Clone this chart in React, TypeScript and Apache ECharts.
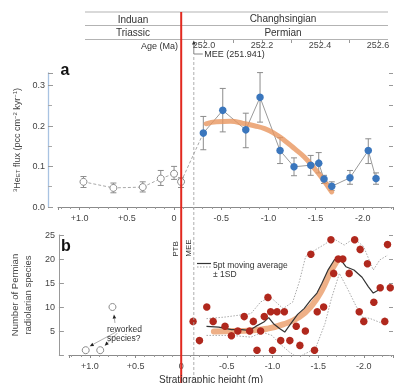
import React, { useEffect, useRef } from 'react';
import * as echarts from 'echarts';

const FONT = '"Liberation Sans", Arial, Helvetica, sans-serif';

// ---------- Panel a: 3He flux ----------
const openX = [0.96, 0.643, 0.332, 0.141, 0.0, -0.074];
const openY = [0.062, 0.047, 0.049, 0.070, 0.082, 0.062];
const openLow = [0.048, 0.035, 0.037, 0.053, 0.068, 0.048];
const openHigh = [0.075, 0.059, 0.062, 0.090, 0.100, 0.072];

const blueX = [-0.31, -0.516, -0.76, -0.911, -1.123, -1.271, -1.448, -1.533, -1.589, -1.671, -1.864, -2.058, -2.14];
const blueY = [0.182, 0.238, 0.19, 0.27, 0.139, 0.099, 0.103, 0.108, 0.069, 0.051, 0.072, 0.139, 0.07];
const blueLow = [0.141, 0.185, 0.146, 0.209, 0.107, 0.077, 0.078, 0.084, 0.058, 0.041, 0.056, 0.107, 0.056];
const blueHigh = [0.223, 0.292, 0.231, 0.331, 0.171, 0.121, 0.127, 0.134, 0.078, 0.062, 0.09, 0.168, 0.084];

const trendAX = [-0.34, -0.45, -0.6, -0.73, -0.85, -0.96, -1.07, -1.17, -1.28, -1.38, -1.48, -1.56, -1.67];
const trendAY = [0.205, 0.21, 0.211, 0.206, 0.2, 0.193, 0.18, 0.164, 0.143, 0.123, 0.097, 0.074, 0.037];

// ---------- Panel b: radiolarian species ----------
const radX = [-0.13, -0.2, -0.28, -0.35, -0.48, -0.55, -0.62, -0.69, -0.75, -0.79, -0.83, -0.87, -0.91, -0.95, -0.98, -1.0, -1.05, -1.09, -1.13, -1.19, -1.26, -1.3, -1.36, -1.42, -1.46, -1.49, -1.56, -1.64, -1.67, -1.72, -1.77, -1.84, -1.9, -1.95, -1.96, -2.0, -2.04, -2.11, -2.18, -2.23, -2.26, -2.29];
const radY = [7, 3, 10, 7, 6, 4, 5, 8, 5, 7, 1, 5, 8, 12, 9, 1, 9, 3, 9, 3, 6, 2, 5, 21, 1, 9, 10, 24, 17, 20, 20, 17, 24, 9, 22, 7, 19, 11, 14, 7, 23, 14];

const reworkedX = [1.046, 0.887, 0.753];
const reworkedY = [1, 1, 10];

const maX = [-0.277, -0.411, -0.552, -0.661, -0.746, -0.817, -0.905, -0.958, -1.011, -1.081, -1.134, -1.187, -1.275, -1.346, -1.416, -1.487, -1.54, -1.611, -1.68, -1.744, -1.804, -1.892, -1.981, -2.051, -2.104, -2.167, -2.196];
const maY = [5.96, 5.82, 5.27, 5.27, 5.13, 5.96, 6.86, 7.78, 6.53, 5.48, 4.77, 6.17, 8.47, 9.67, 11.4, 12.9, 14.9, 17.8, 19.9, 19.9, 18.4, 17.7, 16.2, 14.2, 12.9, 13.6, 14.0];

const sdUpX = [-0.277, -0.481, -0.764, -0.87, -0.976, -1.116, -1.222, -1.293, -1.363, -1.469, -1.575, -1.663, -1.786, -1.892, -1.998, -2.104, -2.175, -2.262];
const sdUpY = [7.57, 7.91, 8.62, 11.05, 12.1, 9.67, 11.05, 15.2, 20.5, 21.9, 23.1, 24.3, 22.9, 24.3, 22.6, 17.7, 19.8, 20.8];

const sdLoX = [-0.277, -0.552, -0.764, -0.887, -0.993, -1.081, -1.187, -1.275, -1.469, -1.575, -1.646, -1.733, -1.822, -1.91, -1.981, -2.069, -2.175, -2.26];
const sdLoY = [4.08, 4.08, 3.72, 4.77, 4.08, 2.34, 0.59, -0.5, 1.3, 6.53, 11.8, 17.0, 13.8, 10.4, 7.9, 7.6, 6.8, 7.0];

const trendBX = [-0.358, -0.587, -0.764, -0.94, -1.116, -1.293, -1.434, -1.54, -1.628, -1.716];
const trendBY = [4.92, 4.98, 5.13, 5.48, 6.38, 7.9, 10.4, 13.5, 17.0, 19.9];

// ---------- Header ----------
const stageNames = ['Induan', 'Changhsingian'];
const systemNames = ['Triassic', 'Permian'];
const ageMin = 252.0;
const ageMax = 252.6;
const meeAge = '251.941';
const meeHeight = -0.138;
const ptbHeight = 0;

const zip = (xs: number[], ys: number[]) => xs.map((x, i) => [x, ys[i]]);
const zip3 = (xs: number[], lo: number[], hi: number[]) => xs.map((x, i) => [x, lo[i], hi[i]]);

const hFmt = (v: number) => {
  if (Math.abs(v) < 1e-9) return '0';
  const r = Math.round(v * 10) / 10;
  if (Math.abs(r * 2 - Math.round(r * 2)) > 1e-6) return '';
  return (r > 0 ? '+' : '') + r.toFixed(1);
};

const errRender = (params: any, api: any) => {
  const x = api.value(0);
  const p1 = api.coord([x, api.value(1)]);
  const p2 = api.coord([x, api.value(2)]);
  const w = 3;
  const style = { stroke: '#8c8c8c', lineWidth: 1 };
  return {
    type: 'group',
    children: [
      { type: 'line', shape: { x1: p1[0], y1: p1[1], x2: p2[0], y2: p2[1] }, style },
      { type: 'line', shape: { x1: p1[0] - w, y1: p1[1], x2: p1[0] + w, y2: p1[1] }, style },
      { type: 'line', shape: { x1: p2[0] - w, y1: p2[1], x2: p2[0] + w, y2: p2[1] }, style },
    ],
  };
};

const tickLabel = { fontSize: 9, color: '#444', fontFamily: FONT };

export default function App() {
  const ref = useRef<HTMLDivElement>(null);
  useEffect(() => {
    if (!ref.current) return;
    const chart = echarts.init(ref.current, null, { renderer: 'svg' });
    const xAxisCommon = (gridIndex: number, extra: any = {}) => ({
      type: 'value', gridIndex, min: -2.32, max: 1.23, inverse: true, splitNumber: 8,
      splitLine: { show: false },
      axisLine: { onZero: false, lineStyle: { color: '#8a8a8a', width: 1 } },
      axisTick: { show: true, length: 3, lineStyle: { color: '#8a8a8a' } },
      minorTick: { show: true, splitNumber: 5, length: 2, lineStyle: { color: '#9a9a9a' } },
      axisLabel: { ...tickLabel, margin: 6, formatter: hFmt, showMinLabel: false, showMaxLabel: false },
      ...extra,
    });
    const option: any = {
      animation: false,
      textStyle: { fontFamily: FONT },
      grid: [
        { left: 58, top: 73, width: 335, height: 134 },
        { left: 58, top: 235, width: 335, height: 120 },
        { left: 204, top: 20, width: 174, height: 19 },
      ],
      xAxis: [
        xAxisCommon(0),
        xAxisCommon(1),
        {
          type: 'value', gridIndex: 2, min: ageMin, max: ageMax, interval: 0.1,
          splitLine: { show: false }, axisLine: { show: false, onZero: false },
          axisTick: { show: true, length: 4, lineStyle: { color: '#999' } },
          axisLabel: {
            ...tickLabel, margin: 1,
            formatter: (v: number) => (Math.round(v * 10) % 2 === 0 ? v.toFixed(1) : ''),
          },
        },
      ],
      yAxis: [
        {
          type: 'value', gridIndex: 0, min: 0, max: 0.33, interval: 0.1, offset: 10,
          splitLine: { show: false },
          axisLine: { show: true, onZero: false, lineStyle: { color: '#a9c3e2', width: 1.3 } },
          axisTick: { show: true, inside: true, length: 5, lineStyle: { color: '#999' } },
          minorTick: { show: true, splitNumber: 2, length: 4, lineStyle: { color: '#aaa' } },
          axisLabel: { ...tickLabel, margin: 3, formatter: (v: number) => v.toFixed(1), showMaxLabel: false },
          name: '{sup|3}He{sub|ET} flux (pcc cm{sup|−2} kyr{sup|−1})',
          nameLocation: 'middle', nameGap: 27, nameRotate: 90,
          nameTextStyle: {
            fontSize: 9, color: '#444', fontFamily: FONT,
            rich: {
              sup: { fontSize: 6, color: '#444', fontFamily: FONT, verticalAlign: 'top', lineHeight: 7 },
              sub: { fontSize: 6, color: '#444', fontFamily: FONT, verticalAlign: 'bottom', lineHeight: 7 },
            },
          },
        },
        {
          type: 'value', gridIndex: 0, position: 'right', min: 0, max: 0.33, interval: 0.05,
          splitLine: { show: false }, axisLine: { show: false, onZero: false },
          axisTick: { show: true, inside: true, length: 4, lineStyle: { color: '#999' } },
          axisLabel: { show: false },
        },
        {
          type: 'value', gridIndex: 1, min: 0, max: 25, interval: 5, offset: 10,
          splitLine: { show: false },
          axisLine: { show: true, onZero: false, lineStyle: { color: '#999', width: 1 } },
          axisTick: { show: true, inside: true, length: 5, lineStyle: { color: '#999' } },
          axisLabel: { ...tickLabel, margin: 4, formatter: (v: number) => (v === 0 ? '' : String(v)) },
          name: 'Number of Permian\nradiolarian species',
          nameLocation: 'middle', nameGap: 20, nameRotate: 90,
          nameTextStyle: { fontSize: 9.5, color: '#444', fontFamily: FONT, lineHeight: 13 },
        },
        {
          type: 'value', gridIndex: 1, position: 'right', min: 0, max: 25, interval: 5,
          splitLine: { show: false }, axisLine: { show: false, onZero: false },
          axisTick: { show: true, inside: true, length: 4, lineStyle: { color: '#999' } },
          axisLabel: { show: false },
        },
        { type: 'value', gridIndex: 2, show: false, min: 0, max: 1 },
      ],
      series: [
        {
          type: 'custom', xAxisIndex: 0, yAxisIndex: 0, z: 1, renderItem: errRender,
          encode: { x: 0, y: [1, 2] }, data: zip3(openX, openLow, openHigh),
        },
        {
          type: 'custom', xAxisIndex: 0, yAxisIndex: 0, z: 1, renderItem: errRender,
          encode: { x: 0, y: [1, 2] }, data: zip3(blueX, blueLow, blueHigh),
        },
        {
          type: 'line', xAxisIndex: 0, yAxisIndex: 0, z: 2, showSymbol: false,
          lineStyle: { color: '#a8a8a8', width: 1, type: [3, 2] },
          data: [...zip(openX, openY), [blueX[0], blueY[0]]],
        },
        {
          type: 'line', xAxisIndex: 0, yAxisIndex: 0, z: 2, showSymbol: false,
          lineStyle: { color: '#9a9a9a', width: 1 },
          data: zip(blueX, blueY),
        },
        {
          type: 'line', xAxisIndex: 0, yAxisIndex: 0, z: 3, showSymbol: false, smooth: true,
          lineStyle: { color: 'rgba(232,150,95,0.8)', width: 5, cap: 'round' },
          data: zip(trendAX, trendAY),
        },
        {
          type: 'scatter', xAxisIndex: 0, yAxisIndex: 0, z: 4, symbol: 'circle', symbolSize: 7,
          itemStyle: { color: '#fff', borderColor: '#8a8a8a', borderWidth: 1, opacity: 1 },
          data: zip(openX, openY),
        },
        {
          type: 'scatter', xAxisIndex: 0, yAxisIndex: 0, z: 4, symbol: 'circle', symbolSize: 7.5,
          itemStyle: { color: '#3a76bd', opacity: 1 },
          data: zip(blueX, blueY),
        },
        {
          type: 'line', xAxisIndex: 1, yAxisIndex: 2, z: 2, showSymbol: false,
          lineStyle: { color: '#a0a0a0', width: 0.9, type: [1.5, 1.5] },
          data: zip(sdUpX, sdUpY),
        },
        {
          type: 'line', xAxisIndex: 1, yAxisIndex: 2, z: 2, showSymbol: false,
          lineStyle: { color: '#a0a0a0', width: 0.9, type: [1.5, 1.5] },
          data: zip(sdLoX, sdLoY),
        },
        {
          type: 'line', xAxisIndex: 1, yAxisIndex: 2, z: 3, showSymbol: false, smooth: true,
          lineStyle: { color: 'rgba(232,150,95,0.75)', width: 6, cap: 'round' },
          data: zip(trendBX, trendBY),
        },
        {
          type: 'line', xAxisIndex: 1, yAxisIndex: 2, z: 4, showSymbol: false,
          lineStyle: { color: '#333', width: 1.2 },
          data: zip(maX, maY),
        },
        {
          type: 'scatter', xAxisIndex: 1, yAxisIndex: 2, z: 5, symbol: 'circle', symbolSize: 7.5,
          itemStyle: { color: '#b0281d', opacity: 1 },
          data: zip(radX, radY),
        },
        {
          type: 'scatter', xAxisIndex: 1, yAxisIndex: 2, z: 5, symbol: 'circle', symbolSize: 7,
          itemStyle: { color: '#fff', borderColor: '#8a8a8a', borderWidth: 1, opacity: 1 },
          data: zip(reworkedX, reworkedY),
        },
      ],
    };
    chart.setOption(option);

    const xPTB = chart.convertToPixel({ xAxisIndex: 1 }, ptbHeight) as number;
    const xMEE = chart.convertToPixel({ xAxisIndex: 1 }, meeHeight) as number;
    const rw = reworkedX.map((x, i) => chart.convertToPixel({ xAxisIndex: 1, yAxisIndex: 2 }, [x, reworkedY[i]]) as number[]);

    const txt = (x: number, y: number, text: string, o: any = {}) => ({
      type: 'text', x, y, z: 20,
      style: { text, fontSize: 10, fill: '#333', fontFamily: FONT, align: 'center', verticalAlign: 'middle', ...o },
    });
    const ln = (x1: number, y1: number, x2: number, y2: number, style: any) => ({
      type: 'line', z: 15, shape: { x1, y1, x2, y2 }, style: { lineWidth: 1, ...style },
    });
    const arrow = (x1: number, y1: number, x2: number, y2: number) => {
      const a = Math.atan2(y2 - y1, x2 - x1);
      const L = 4, W = 1.8;
      const bx = x2 - L * Math.cos(a), by = y2 - L * Math.sin(a);
      return [
        ln(x1, y1, bx, by, { stroke: '#999', lineWidth: 0.8 }),
        {
          type: 'polygon', z: 16,
          shape: { points: [[x2, y2], [bx - W * Math.sin(a), by + W * Math.cos(a)], [bx + W * Math.sin(a), by - W * Math.cos(a)]] },
          style: { fill: '#222' },
        },
      ];
    };

    const hdrL = 85, hdrR = 388;
    const graphic: any[] = [
      ln(hdrL, 12, hdrR, 12, { stroke: '#b3b3b3' }),
      ln(hdrL, 25.5, hdrR, 25.5, { stroke: '#b3b3b3' }),
      ln(hdrL, 39.5, hdrR, 39.5, { stroke: '#b3b3b3' }),
      txt(133, 19, stageNames[0]),
      txt(283, 18.5, stageNames[1]),
      txt(133, 32.5, systemNames[0]),
      txt(283, 32.5, systemNames[1]),
      txt(178, 45.5, 'Age (Ma)', { align: 'right', fontSize: 9 }),
      {
        type: 'polygon', z: 16,
        shape: { points: [[xMEE - 1.8, 44.5], [xMEE + 1.8, 44.5], [xMEE, 40.5]] },
        style: { fill: '#333' },
      },
      {
        type: 'polyline', z: 15,
        shape: { points: [[xMEE, 44], [xMEE, 54], [xMEE + 9, 54]] },
        style: { stroke: '#666', lineWidth: 0.8, fill: null },
      },
      txt(xMEE + 10.5, 54, `MEE (${meeAge})`, { align: 'left', fontSize: 9 }),
      ln(xMEE, 57, xMEE, 383, { stroke: '#a5a5a5', lineDash: [3, 2], lineWidth: 0.9 }),
      ln(xPTB, 12, xPTB, 383, { stroke: '#e2291f', lineWidth: 2 }),
      txt(65, 69, 'a', { fontSize: 16, fontWeight: 'bold', fill: '#111' }),
      txt(66, 245, 'b', { fontSize: 16, fontWeight: 'bold', fill: '#111' }),
      { ...txt(xPTB - 6, 249, 'PTB', { fontSize: 8 }), rotation: Math.PI / 2 },
      { ...txt(xMEE - 5.5, 248, 'MEE', { fontSize: 8 }), rotation: Math.PI / 2 },
      ln(197, 263.5, 211, 263.5, { stroke: '#333', lineWidth: 1.2 }),
      ln(197, 267, 211, 267, { stroke: '#999', lineDash: [1.5, 1.5], lineWidth: 0.9 }),
      txt(213, 264.5, '5pt moving average', { align: 'left', fontSize: 8.5 }),
      txt(213, 273.5, '± 1SD', { align: 'left', fontSize: 8.5 }),
      txt(107, 329, 'reworked', { align: 'left', fontSize: 8.5 }),
      txt(107, 338, 'species?', { align: 'left', fontSize: 8.5 }),
      ...arrow(rw[2][0] + 2.5, rw[2][1] + 16, rw[2][0] + 1.5, rw[2][1] + 7.5),
      ...arrow(rw[0][0] + 30, rw[0][1] - 18, rw[0][0] + 4, rw[0][1] - 4),
      ...arrow(rw[1][0] + 17, rw[1][1] - 17, rw[1][0] + 4.5, rw[1][1] - 4.5),
      txt(211, 379, 'Stratigraphic height (m)', { fontSize: 10 }),
    ];
    chart.setOption({ graphic });

    return () => chart.dispose();
  }, []);
  return <div ref={ref} style={{ position: 'fixed', left: 0, top: 0, width: 395, height: 383 }} />;
}
